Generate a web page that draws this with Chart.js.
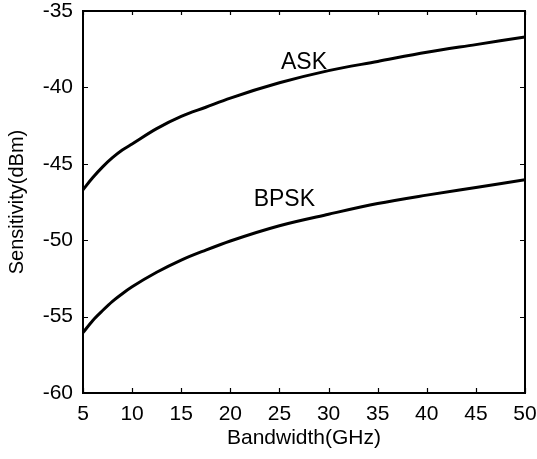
<!DOCTYPE html>
<html>
<head>
<meta charset="utf-8">
<script src="https://cdn.jsdelivr.net/npm/chart.js@4.4.0/dist/chart.umd.min.js"></script>
<style>
  html, body { margin: 0; padding: 0; background: #fff; }
  #wrap { width: 537px; height: 459px; position: relative; }
</style>
</head>
<body>
<div id="wrap"><canvas id="chart"></canvas></div>
<script>
// bandwidth (GHz) and sensitivity (dBm)
const bandwidth = [5, 6, 7, 8, 9, 10, 12.5, 15, 17.5, 20, 25, 30, 35, 40, 45, 50];
const askSens   = [-46.7, -45.9, -45.2, -44.6, -44.1, -43.7, -42.7, -41.9, -41.3, -40.7, -39.7, -38.9, -38.3, -37.7, -37.2, -36.7];
const bpskSens  = [-56.05, -55.25, -54.6, -54.0, -53.5, -53.05, -52.1, -51.3, -50.65, -50.05, -49.05, -48.3, -47.6, -47.05, -46.55, -46.05];

const xTicks = [5, 10, 15, 20, 25, 30, 35, 40, 45, 50];
const yTicks = [-60, -55, -50, -45, -40, -35];

const curveNames = ['ASK', 'BPSK'];
const curveLabelX = [27.5, 25.5];
const curveLabelY = [-38.35, -47.35];

const FONT = '"Liberation Sans", Arial, sans-serif';

const toPts = ys => bandwidth.map((x, i) => ({ x, y: ys[i] }));

// box frame + inward ticks on all four sides, and curve names
const framePlugin = {
  id: 'frame',
  afterDraw(chart) {
    const { ctx, chartArea: a, scales: { x, y } } = chart;
    ctx.save();
    ctx.strokeStyle = '#000';
    ctx.lineWidth = 2;
    ctx.strokeRect(a.left, a.top, a.right - a.left, a.bottom - a.top);
    ctx.lineWidth = 1.2;
    ctx.beginPath();
    xTicks.forEach(v => {
      const px = Math.round(x.getPixelForValue(v)) + 0.5;
      ctx.moveTo(px, a.bottom); ctx.lineTo(px, a.bottom - 5);
      ctx.moveTo(px, a.top); ctx.lineTo(px, a.top + 4);
    });
    yTicks.forEach(v => {
      const py = Math.round(y.getPixelForValue(v)) + 0.5;
      ctx.moveTo(a.left, py); ctx.lineTo(a.left + 5, py);
      ctx.moveTo(a.right, py); ctx.lineTo(a.right - 5, py);
    });
    ctx.stroke();

    ctx.fillStyle = '#000';
    ctx.font = '23px ' + FONT;
    ctx.textAlign = 'center';
    ctx.textBaseline = 'middle';
    curveNames.forEach((n, i) => {
      ctx.fillText(n, x.getPixelForValue(curveLabelX[i]), y.getPixelForValue(curveLabelY[i]));
    });
    ctx.restore();
  }
};

new Chart(document.getElementById('chart'), {
  type: 'line',
  data: {
    datasets: [
      { label: 'ASK', data: toPts(askSens), borderColor: '#000', borderWidth: 3, pointRadius: 0, cubicInterpolationMode: 'monotone', fill: false },
      { label: 'BPSK', data: toPts(bpskSens), borderColor: '#000', borderWidth: 3, pointRadius: 0, cubicInterpolationMode: 'monotone', fill: false }
    ]
  },
  options: {
    responsive: true,
    maintainAspectRatio: false,
    animation: false,
    layout: { padding: { left: 0, right: 12, top: 11, bottom: 0 } },
    plugins: { legend: { display: false }, tooltip: { enabled: false } },
    scales: {
      x: {
        type: 'linear', min: 5, max: 50,
        afterBuildTicks: s => { s.ticks = xTicks.map(v => ({ value: v })); },
        afterFit: s => { s.height = 66; s.paddingLeft = 0; s.paddingRight = 0; },
        grid: { display: false, drawTicks: false },
        border: { display: true, color: '#000', width: 2 },
        ticks: { color: '#000', padding: 9, maxRotation: 0, font: { family: FONT, size: 21 } },
        title: { display: true, text: 'Bandwidth(GHz)', color: '#000', padding: { top: 0, bottom: 8 }, font: { family: FONT, size: 21 } }
      },
      y: {
        type: 'linear', min: -60, max: -35,
        afterBuildTicks: s => { s.ticks = yTicks.map(v => ({ value: v })); },
        afterFit: s => { s.width = 83; s.paddingTop = 0; s.paddingBottom = 0; },
        grid: { display: false, drawTicks: false },
        border: { display: true, color: '#000', width: 2 },
        ticks: { color: '#000', padding: 10, font: { family: FONT, size: 21 } },
        title: { display: true, text: 'Sensitivity(dBm)', color: '#000', padding: { top: 5, bottom: 0 }, font: { family: FONT, size: 20 } }
      }
    }
  },
  plugins: [framePlugin]
});
</script>
</body>
</html>
